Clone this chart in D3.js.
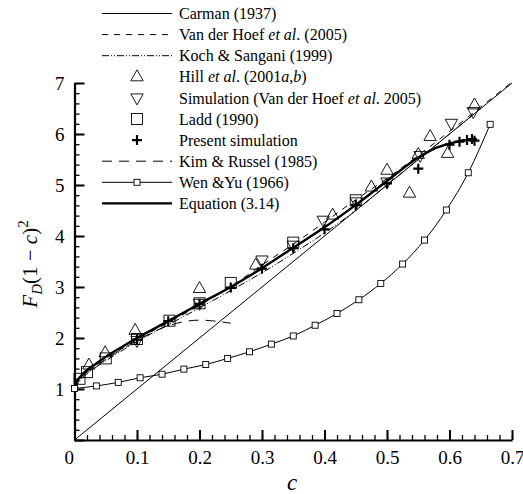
<!DOCTYPE html>
<html>
<head>
<meta charset="utf-8">
<script src="https://cdn.jsdelivr.net/npm/d3@7"></script>
<style>
  body { margin: 0; background: #fff; }
  svg, svg text { font-family: "Liberation Serif", "DejaVu Serif", serif; }
</style>
</head>
<body>
<svg id="chart" width="523" height="494"></svg>
<script>
// values: c (solid fraction) against F_D(1-c)^2
const carmanC = [0, 0.7];
const carmanF = [0, 7];

const vdhC = [0, 0.01, 0.02, 0.05, 0.1, 0.15, 0.2, 0.25, 0.3, 0.35, 0.4, 0.45, 0.5, 0.55, 0.6, 0.65, 0.7];
const vdhF = [1.0, 1.2, 1.31, 1.58, 1.97, 2.3, 2.64, 3.01, 3.43, 3.84, 4.27, 4.71, 5.13, 5.58, 6.05, 6.53, 7.02];

const kochC = [0, 0.01, 0.02, 0.05, 0.1, 0.15, 0.2, 0.25, 0.3, 0.35, 0.4, 0.45, 0.5, 0.55, 0.6, 0.64];
const kochF = [1.0, 1.18, 1.3, 1.55, 1.93, 2.26, 2.59, 2.93, 3.28, 3.66, 4.06, 4.5, 5.0, 5.5, 6.0, 6.4];

const kimC = [0, 0.01, 0.02, 0.05, 0.1, 0.15, 0.2, 0.25];
const kimF = [1.0, 1.22, 1.33, 1.58, 1.95, 2.24, 2.35, 2.29];

const eqC = [0, 0.003, 0.01, 0.02, 0.035, 0.05, 0.075, 0.1, 0.15, 0.2, 0.25, 0.3, 0.35, 0.4, 0.45, 0.5, 0.55, 0.575, 0.6, 0.62, 0.64];
const eqF = [1.0, 1.13, 1.25, 1.37, 1.5, 1.63, 1.82, 2.0, 2.33, 2.67, 3.0, 3.37, 3.77, 4.17, 4.61, 5.08, 5.54, 5.71, 5.81, 5.87, 5.9];

const wenC = [0, 0.035, 0.07, 0.105, 0.14, 0.175, 0.21, 0.245, 0.28, 0.315, 0.35, 0.385, 0.42, 0.455, 0.49, 0.525, 0.56, 0.595, 0.63, 0.665];
const wenF = [1.01, 1.06, 1.13, 1.22, 1.29, 1.39, 1.48, 1.6, 1.73, 1.88, 2.04, 2.25, 2.48, 2.75, 3.07, 3.45, 3.92, 4.51, 5.24, 6.19];

const hillC = [0.023, 0.049, 0.097, 0.2, 0.29, 0.413, 0.475, 0.5, 0.536, 0.55, 0.569, 0.597, 0.64];
const hillF = [1.47, 1.71, 2.15, 2.97, 3.43, 4.41, 4.96, 5.29, 4.84, 5.6, 5.95, 5.62, 6.57];

const simC = [0.1, 0.2, 0.3, 0.35, 0.398, 0.451, 0.5, 0.553, 0.603, 0.638];
const simF = [1.95, 2.68, 3.53, 3.82, 4.31, 4.67, 5.06, 5.58, 6.21, 6.44];

const laddC = [0.008, 0.02, 0.05, 0.1, 0.152, 0.2, 0.25, 0.35, 0.45];
const laddF = [1.2, 1.33, 1.6, 1.98, 2.34, 2.68, 3.08, 3.87, 4.7];

const presC = [0.1, 0.15, 0.2, 0.25, 0.3, 0.35, 0.4, 0.45, 0.5, 0.55, 0.6, 0.616, 0.628, 0.636, 0.64];
const presF = [1.97, 2.33, 2.67, 2.99, 3.36, 3.76, 4.13, 4.61, 5.03, 5.32, 5.79, 5.85, 5.88, 5.9, 5.87];

const xTicks = [0, 0.1, 0.2, 0.3, 0.4, 0.5, 0.6, 0.7];
const yTicks = [0, 1, 2, 3, 4, 5, 6, 7];

const legendLabels = [
  ['Carman (1937)'],
  ['Van der Hoef ', ['et al', 1], '. (2005)'],
  ['Koch & Sangani (1999)'],
  ['Hill ', ['et al', 1], '. (2001', ['a', 1], ',', ['b', 1], ')'],
  ['Simulation (Van der Hoef ', ['et al', 1], '. 2005)'],
  ['Ladd (1990)'],
  ['Present simulation'],
  ['Kim & Russel (1985)'],
  ['Wen &Yu (1966)'],
  ['Equation (3.14)']
];

const FONT = '"Liberation Serif", "DejaVu Serif", serif';
const zip = (a, b) => a.map((v, i) => [v, b[i]]);

const svg = d3.select('#chart').attr('font-family', FONT);
const x = d3.scaleLinear().domain([0, 0.7]).range([74.5, 512]);
const y = d3.scaleLinear().domain([0, 7]).range([440, 83]);

// axes: minor ticks first, then majors with labels, both pointing inward
const minorX = d3.range(0, 0.7001, 0.02);
const minorY = d3.range(0, 7.001, 0.2);

svg.append('g').attr('transform', 'translate(0,440)')
  .call(d3.axisBottom(x).tickValues(minorX).tickSize(-5).tickSizeOuter(0).tickFormat(''))
  .call(g => g.select('.domain').remove())
  .selectAll('line').attr('stroke-width', 1.3);
svg.append('g').attr('transform', 'translate(74.5,0)')
  .call(d3.axisLeft(y).tickValues(minorY).tickSize(-5).tickSizeOuter(0).tickFormat(''))
  .call(g => g.select('.domain').remove())
  .selectAll('line').attr('stroke-width', 1.3);

const gx = svg.append('g').attr('transform', 'translate(0,440)')
  .call(d3.axisBottom(x).tickValues(xTicks).tickSize(-10).tickSizeOuter(0).tickPadding(11)
    .tickFormat(d => d === 0 ? '0' : d3.format('.1f')(d)));
const gy = svg.append('g').attr('transform', 'translate(74.5,0)')
  .call(d3.axisLeft(y).tickValues(yTicks).tickSize(-10).tickSizeOuter(0).tickPadding(10)
    .tickFormat(d3.format('d')));
for (const g of [gx, gy]) {
  g.attr('font-family', FONT).attr('font-size', 19);
  g.select('.domain').attr('stroke-width', 2.2);
  g.selectAll('.tick line').attr('stroke-width', 2);
  g.selectAll('text').attr('fill', '#000');
}
gy.selectAll('.tick').filter(d => d === 0).select('text').remove();
gx.selectAll('.tick').filter(d => d === 0).select('text').attr('dx', '-0.3em');

// axis titles
svg.append('text').attr('x', 292).attr('y', 490).attr('text-anchor', 'middle')
  .attr('font-size', 23).attr('font-style', 'italic').text('c');

const yl = svg.append('text').attr('transform', 'translate(37,264) rotate(-90)')
  .attr('text-anchor', 'middle').attr('font-size', 21);
yl.append('tspan').attr('font-style', 'italic').text('F');
yl.append('tspan').attr('font-style', 'italic').attr('font-size', 15).attr('dy', 5).text('D');
yl.append('tspan').attr('dy', -5).text('(1 − ');
yl.append('tspan').attr('font-style', 'italic').text('c');
yl.append('tspan').text(')');
yl.append('tspan').attr('font-size', 15).attr('dy', -9).text('2');

// lines
const line = d3.line().x(d => x(d[0])).y(d => y(d[1]));
const smooth = d3.line().x(d => x(d[0])).y(d => y(d[1])).curve(d3.curveMonotoneX);

const styles = {
  carman: { w: 1, dash: null },
  vdh: { w: 1, dash: '6,6' },
  koch: { w: 1, dash: '7,2,1,2,1,2' },
  kim: { w: 1, dash: '10,7' },
  wen: { w: 1, dash: null },
  eq: { w: 2.4, dash: null }
};

const plotLine = (data, st, gen) => svg.append('path')
  .attr('d', gen(data)).attr('fill', 'none').attr('stroke', '#000')
  .attr('stroke-width', st.w).attr('stroke-dasharray', st.dash);

plotLine(zip(carmanC, carmanF), styles.carman, line);
plotLine(zip(wenC, wenF), styles.wen, smooth);
plotLine(zip(kimC, kimF), styles.kim, smooth);
plotLine(zip(kochC, kochF), styles.koch, smooth);
plotLine(zip(vdhC, vdhF), styles.vdh, smooth);
plotLine(zip(eqC, eqF), styles.eq, smooth);

// markers
const triUp = 'M0,-7L6.2,4L-6.2,4Z';
const triDown = 'M0,7L6.2,-4L-6.2,-4Z';
const markers = {
  hill: g => g.append('path').attr('d', triUp).attr('fill', 'none').attr('stroke', '#000').attr('stroke-width', 0.9),
  sim: g => g.append('path').attr('d', triDown).attr('fill', 'none').attr('stroke', '#000').attr('stroke-width', 0.9),
  ladd: g => g.append('rect').attr('x', -5.5).attr('y', -5.5).attr('width', 11).attr('height', 11)
    .attr('fill', 'none').attr('stroke', '#000').attr('stroke-width', 0.9),
  pres: g => g.append('path').attr('d', 'M-5,0H5M0,-5V5').attr('stroke', '#000').attr('stroke-width', 2.2),
  wen: g => g.append('rect').attr('x', -3).attr('y', -3).attr('width', 6).attr('height', 6)
    .attr('fill', '#fff').attr('stroke', '#000').attr('stroke-width', 0.9)
};

const plotPoints = (data, draw) => svg.append('g').selectAll('g')
  .data(data).enter().append('g')
  .attr('transform', d => `translate(${x(d[0])},${y(d[1])})`)
  .each(function () { draw(d3.select(this)); });

plotPoints(zip(wenC, wenF), markers.wen);
plotPoints(zip(laddC, laddF), markers.ladd);
plotPoints(zip(hillC, hillF), markers.hill);
plotPoints(zip(simC, simF), markers.sim);
plotPoints(zip(presC, presF), markers.pres);

// legend
const legendKinds = [
  { line: styles.carman }, { line: styles.vdh }, { line: styles.koch },
  { mark: markers.hill }, { mark: markers.sim }, { mark: markers.ladd }, { mark: markers.pres },
  { line: styles.kim }, { line: styles.wen, mark: markers.wen }, { line: styles.eq }
];

const leg = svg.append('g');
legendLabels.forEach((parts, i) => {
  const ly = 13.5 + i * 21.1;
  const k = legendKinds[i];
  if (k.line) {
    leg.append('line').attr('x1', 102).attr('x2', 172).attr('y1', ly).attr('y2', ly)
      .attr('stroke', '#000').attr('stroke-width', k.line.w).attr('stroke-dasharray', k.line.dash);
  }
  if (k.mark) k.mark(leg.append('g').attr('transform', `translate(137,${ly})`));
  const t = leg.append('text').attr('x', 179).attr('y', ly).attr('dy', '0.35em').attr('font-size', 16);
  for (const p of parts) {
    if (Array.isArray(p)) t.append('tspan').attr('font-style', 'italic').text(p[0]);
    else t.append('tspan').text(p);
  }
});
</script>
</body>
</html>
